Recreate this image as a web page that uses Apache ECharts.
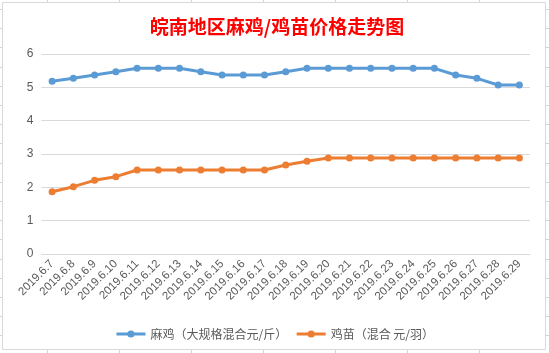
<!DOCTYPE html>
<html>
<head>
<meta charset="utf-8">
<script src="https://cdn.jsdelivr.net/npm/echarts@6/dist/echarts.min.js"></script>
<style>
html,body{margin:0;padding:0;background:#fff;}
#wrap{position:relative;width:549px;height:353px;overflow:hidden;
background-image:
 repeating-linear-gradient(to bottom, transparent 0, transparent 9px, #d4d4d4 9px, #d4d4d4 10px, transparent 10px, transparent 19.2px),
 repeating-linear-gradient(to right, transparent 0, transparent 47px, #d4d4d4 47px, #d4d4d4 48px, transparent 48px, transparent 72px);
}
#chart{position:absolute;left:0;top:0;width:549px;height:353px;}
</style>
</head>
<body>
<div id="wrap"><div id="chart"></div></div>
<script>
const categories = ['2019.6.7','2019.6.8','2019.6.9','2019.6.10','2019.6.11','2019.6.12','2019.6.13','2019.6.14','2019.6.15','2019.6.16','2019.6.17','2019.6.18','2019.6.19','2019.6.20','2019.6.21','2019.6.22','2019.6.23','2019.6.24','2019.6.25','2019.6.26','2019.6.27','2019.6.28','2019.6.29'];
const majiPrice = [5.18,5.27,5.37,5.47,5.57,5.57,5.57,5.47,5.37,5.37,5.37,5.47,5.57,5.57,5.57,5.57,5.57,5.57,5.57,5.37,5.27,5.07,5.07];
const jimiaoPrice = [1.87,2.02,2.21,2.32,2.52,2.52,2.52,2.52,2.52,2.52,2.52,2.67,2.78,2.88,2.88,2.88,2.88,2.88,2.88,2.88,2.88,2.88,2.88];
const seriesNames = ['麻鸡（大规格混合元/斤）','鸡苗（混合 元/羽）'];
const titleText = '皖南地区麻鸡/鸡苗价格走势图';

const chart = echarts.init(document.getElementById('chart'), null, {renderer:'canvas'});
const lab = '#595959';
chart.setOption({
  backgroundColor:'transparent',
  animation:false,
  graphic:[{type:'rect',z:-10,shape:{x:2.5,y:2.5,width:543,height:347},style:{fill:'#fff',stroke:'#d9d9d9',lineWidth:1}}],
  title:{text:titleText,left:272,textAlign:'center',top:12,
    textStyle:{color:'#ff0000',fontSize:19,fontWeight:'bold',fontFamily:'"Noto Sans CJK SC", sans-serif'}},
  legend:{left:'center',top:323,itemWidth:29,itemHeight:9,itemGap:8,
    lineStyle:{width:3},
    textStyle:{color:lab,fontSize:12,fontFamily:'"Noto Sans CJK SC", sans-serif'},
    data:seriesNames},
  grid:{left:41.5,right:19,top:54,bottom:99,containLabel:false},
  xAxis:{type:'category',data:categories,boundaryGap:true,
    axisLine:{show:true,lineStyle:{color:'#d9d9d9'}},axisTick:{show:false},
    axisLabel:{rotate:45,interval:0,fontSize:11.5,color:lab,margin:8,fontFamily:'"Liberation Sans", Arial, sans-serif'}},
  yAxis:{type:'value',min:0,max:6,interval:1,
    axisLine:{show:false},axisTick:{show:false},
    splitLine:{lineStyle:{color:'#d9d9d9',width:1}},
    axisLabel:{fontSize:12,color:lab,margin:8,fontFamily:'"Liberation Sans", Arial, sans-serif'}},
  series:[
    {name:seriesNames[0],type:'line',data:majiPrice,symbol:'circle',symbolSize:7,
      lineStyle:{width:3,color:'#5b9bd5'},itemStyle:{color:'#5b9bd5'}},
    {name:seriesNames[1],type:'line',data:jimiaoPrice,symbol:'circle',symbolSize:7,
      lineStyle:{width:3,color:'#ed7d31'},itemStyle:{color:'#ed7d31'}}
  ]
});
</script>
</body>
</html>
